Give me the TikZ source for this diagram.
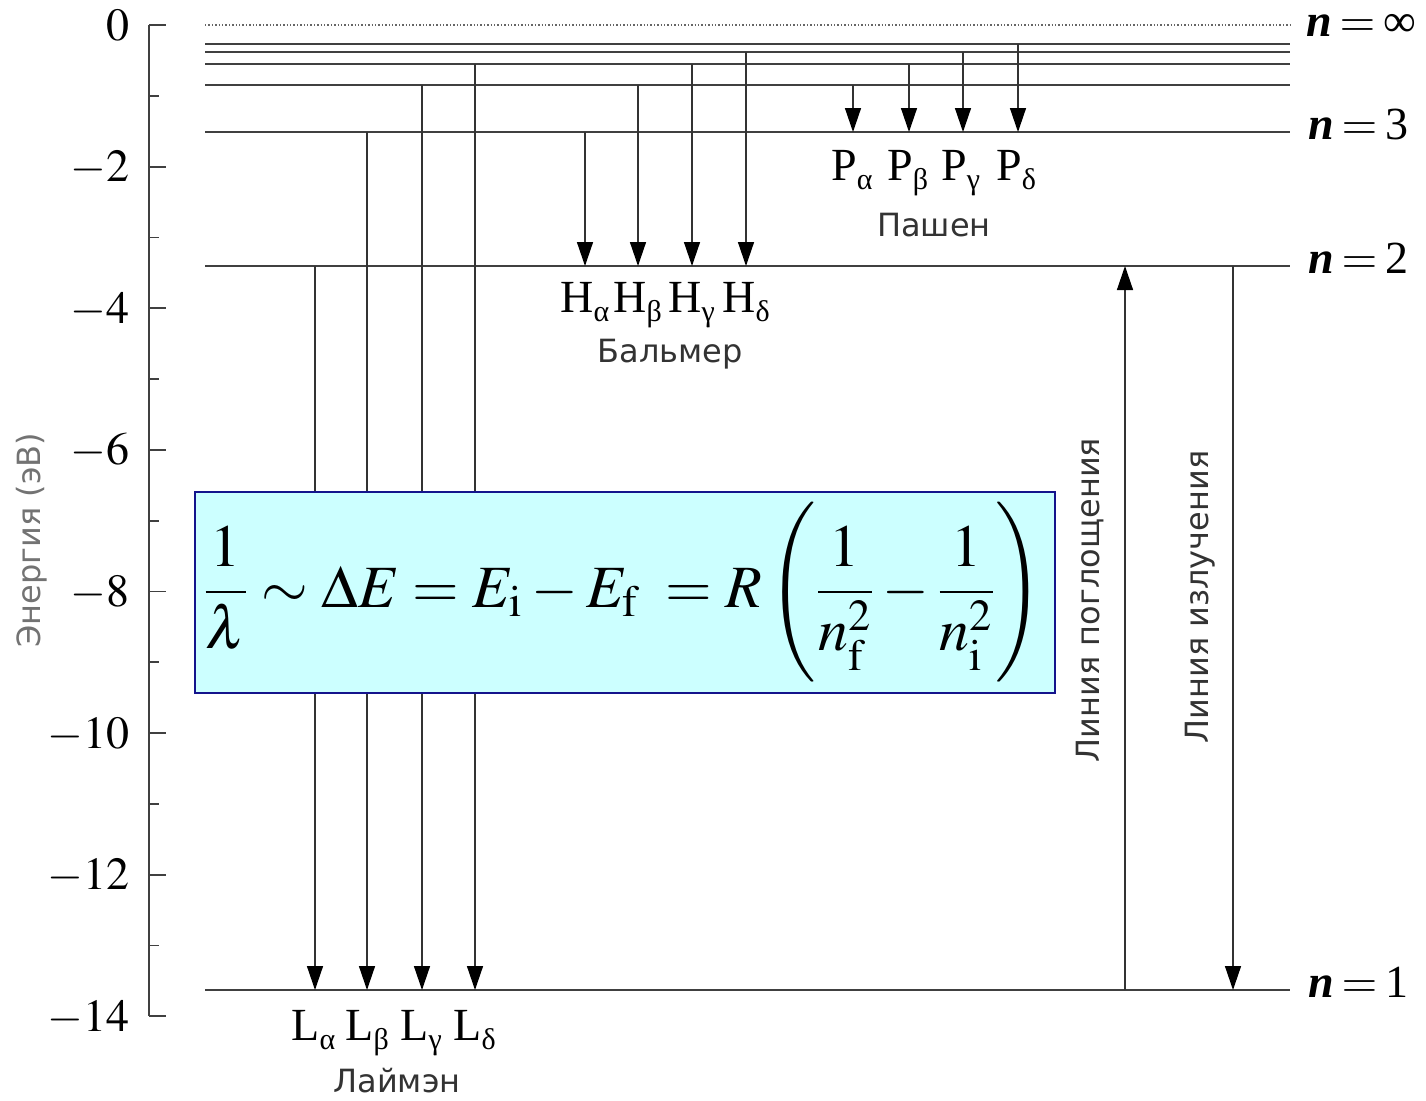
\documentclass[tikz,border=0pt]{standalone}
\usepackage{mathptmx}
\usepackage{fontspec}
\setmainfont{Liberation Serif}
\setsansfont{DejaVu Sans}
\usetikzlibrary{arrows.meta}

\definecolor{boxfill}{RGB}{204,255,255}
\definecolor{boxline}{RGB}{20,20,140}
\newcommand{\subl}[2]{#1\raisebox{-0.45ex}{\fontsize{15}{15}\selectfont #2}}

\begin{document}
\begin{tikzpicture}[x=0.5pt,y=-0.5pt,
  lvl/.style={draw=black!75,line width=0.8pt},
  ax/.style={draw=black!75,line width=0.9pt},
  tr/.style={draw=black!80,line width=0.7pt,-{Triangle[length=12pt,width=8pt,color=black]}},
  ser/.style={anchor=base west,inner sep=0pt,font=\fontsize{23}{26}\selectfont},
  cyr/.style={anchor=base,inner sep=0pt,text=black!80,font=\sffamily\fontsize{16}{18}\selectfont},
  nlab/.style={anchor=base west,inner sep=0pt,font=\fontsize{23}{26}\selectfont},
  tick/.style={anchor=base east,inner sep=0pt,font=\fontsize{23}{26}\selectfont}]
\useasboundingbox (0,0) rectangle (1426,1100);

% energy axis
\draw[ax] (149,25) -- (149,1016);
\foreach \v/\t in {0/0,2/-2,4/-4,6/-6,8/-8,10/-10,12/-12,14/-14} {
  \draw[ax] (149,{25+70.8*\v}) -- ++(17,0);
  \node[tick] at (130,{40+70.8*\v}) {$\t$};
}
\foreach \v in {1,3,...,13}
  \draw[ax] (149,{25+70.8*\v}) -- ++(10,0);
\node[rotate=90,text=black!55,font=\sffamily\fontsize{16}{18}\selectfont] (E) at (32,540) {Энергия (эВ)};

% levels
\coordinate (R) at (1290,0);
\coordinate (Ninf) at (205,25);
\coordinate (N7) at (205,44);
\coordinate (N6) at (205,52);
\coordinate (N5) at (205,64);
\coordinate (N4) at (205,85);
\coordinate (N3) at (205,132);
\coordinate (N2) at (205,266);
\coordinate (N1) at (205,990);

\draw[draw=black!60,line width=0.7pt,densely dotted] (Ninf) -- (Ninf -| R);
\draw[lvl] (N7) -- (N7 -| R);
\draw[lvl] (N6) -- (N6 -| R);
\draw[lvl] (N5) -- (N5 -| R);
\draw[lvl] (N4) -- (N4 -| R);
\draw[lvl] (N3) -- (N3 -| R);
\draw[lvl] (N2) -- (N2 -| R);
\draw[lvl] (N1) -- (N1 -| R);

\node[nlab] (Linf) at (1306,36) {\textbf{\textit{n}}\,$=$\,∞};
\node[nlab] (L3) at (1308,139) {\textbf{\textit{n}}\,$=$\,3};
\node[nlab] (L2) at (1308,273) {\textbf{\textit{n}}\,$=$\,2};
\node[nlab] (L1) at (1308,997) {\textbf{\textit{n}}\,$=$\,1};

% Lyman
\draw[tr] (315,0 |- N2) -- (315,0 |- N1);
\draw[tr] (367,0 |- N3) -- (367,0 |- N1);
\draw[tr] (422,0 |- N4) -- (422,0 |- N1);
\draw[tr] (475,0 |- N5) -- (475,0 |- N1);
\node[ser] (La) at (291,1040) {\subl{L}{α}};
\node[ser] (Lb) at (345,1040) {\subl{L}{β}};
\node[ser] (Lc) at (400,1040) {\subl{L}{γ}};
\node[ser] (Ld) at (453,1040) {\subl{L}{δ}};
\node[cyr] (Lyman) at (397,1092) {Лаймэн};

% Balmer
\draw[tr] (585,0 |- N3) -- (585,0 |- N2);
\draw[tr] (638,0 |- N4) -- (638,0 |- N2);
\draw[tr] (692,0 |- N5) -- (692,0 |- N2);
\draw[tr] (746,0 |- N6) -- (746,0 |- N2);
\node[ser] (Ha) at (560,312) {\subl{H}{α}};
\node[ser] (Hb) at (613,312) {\subl{H}{β}};
\node[ser] (Hc) at (668,312) {\subl{H}{γ}};
\node[ser] (Hd) at (722,312) {\subl{H}{δ}};
\node[cyr] (Balmer) at (670,362) {Бальмер};

% Paschen
\draw[tr] (853,0 |- N4) -- (853,0 |- N3);
\draw[tr] (909,0 |- N5) -- (909,0 |- N3);
\draw[tr] (963,0 |- N6) -- (963,0 |- N3);
\draw[tr] (1018,0 |- N7) -- (1018,0 |- N3);
\node[ser] (Pa) at (831,180) {\subl{P}{α}};
\node[ser] (Pb) at (887,180) {\subl{P}{β}};
\node[ser] (Pc) at (941,180) {\subl{P}{γ}};
\node[ser] (Pd) at (996,180) {\subl{P}{δ}};
\node[cyr] (Paschen) at (934,236) {Пашен};

% absorption and emission
\draw[tr] (1125,0 |- N1) -- (1125,0 |- N2);
\draw[tr] (1233,0 |- N2) -- (1233,0 |- N1);
\node[cyr,anchor=center,rotate=90] (Abs) at (1090,600) {Линия поглощения};
\node[cyr,anchor=center,rotate=90] (Emi) at (1200,597) {Линия излучения};

% formula
\node[draw=boxline,fill=boxfill,line width=1pt,minimum width=430pt,minimum height=100.5pt,inner sep=0pt] (F) at (625,592.5) {};
\node[font=\fontsize{30}{36}\selectfont] (Eq) at (623,592) {$\displaystyle \frac{1}{\lambda}\sim\Delta E=E_{\mathrm{i}}-E_{\mathrm{f}}\;=R\left(\frac{1}{n_{\mathrm{f}}^{2}}-\frac{1}{n_{\mathrm{i}}^{2}}\right)$};
\end{tikzpicture}
\end{document}
